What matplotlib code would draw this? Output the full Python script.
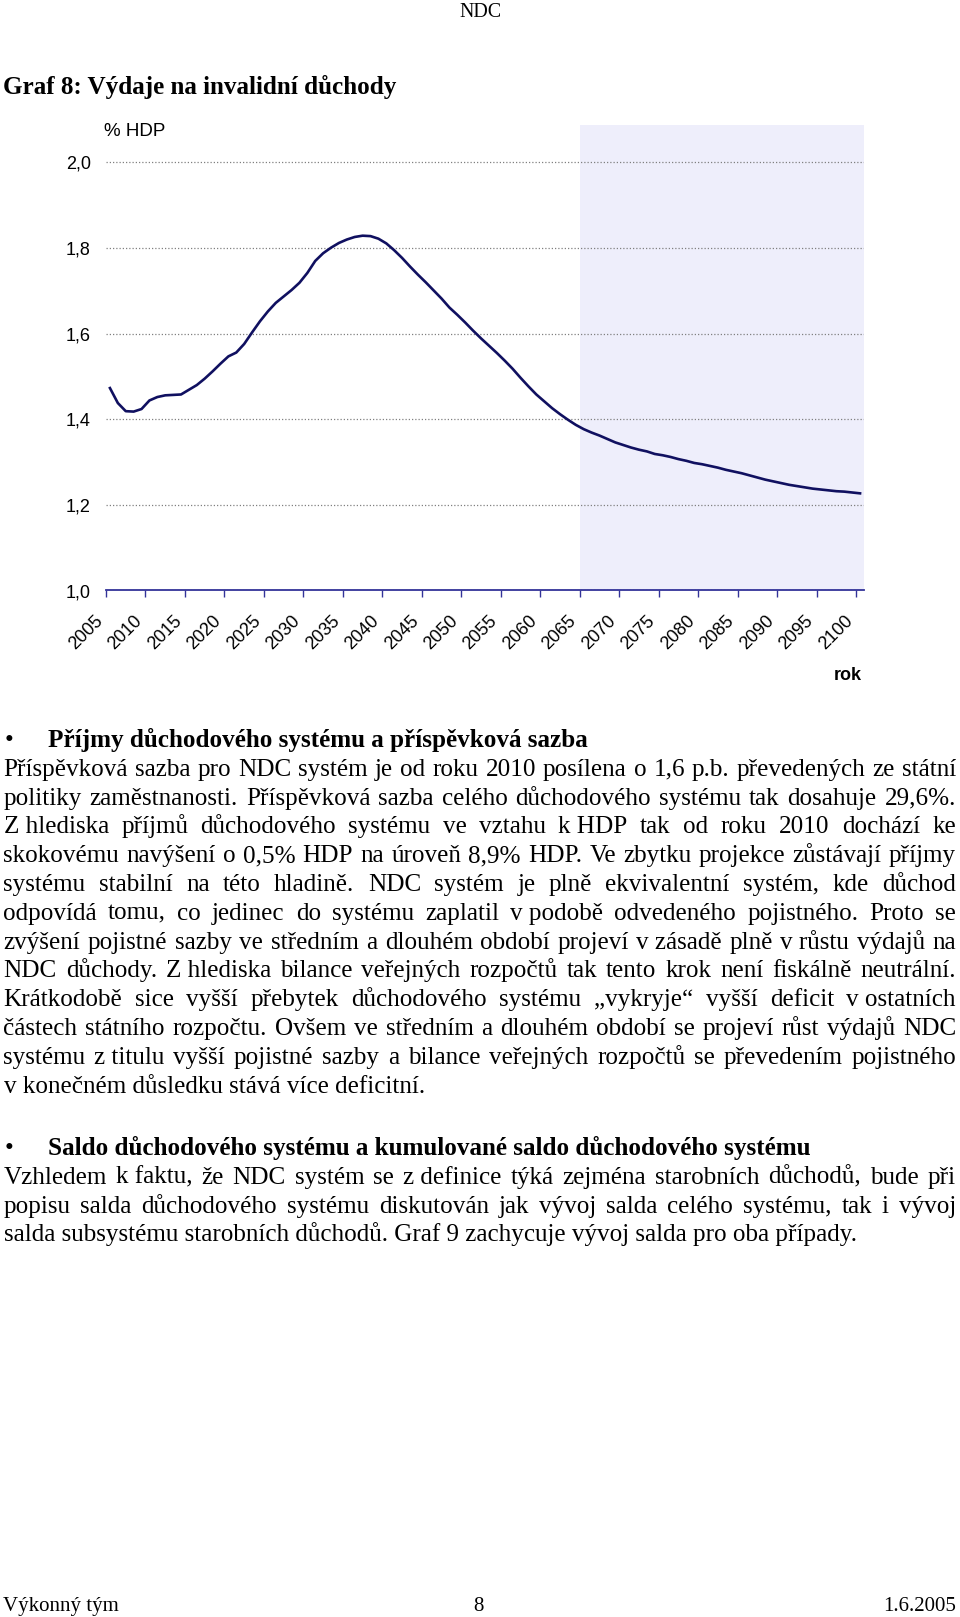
import numpy as np
import matplotlib
matplotlib.use('Agg')
import matplotlib.pyplot as plt
from matplotlib.font_manager import FontProperties

# data (share of GDP, annual 2005-2100)
years = np.arange(2005, 2101)
spending = [
    1.473, 1.438, 1.419, 1.418, 1.424, 1.444, 1.452, 1.456, 1.457, 1.458,
    1.469, 1.480, 1.495, 1.512, 1.530, 1.547, 1.556, 1.576, 1.603, 1.629,
    1.652, 1.672, 1.687, 1.702, 1.719, 1.742, 1.770, 1.788, 1.801, 1.812,
    1.820, 1.826, 1.829, 1.828, 1.822, 1.811, 1.795, 1.777, 1.757, 1.738,
    1.720, 1.701, 1.682, 1.661, 1.644, 1.626, 1.607, 1.589, 1.572, 1.555,
    1.537, 1.518, 1.497, 1.477, 1.458, 1.442, 1.426, 1.412, 1.399, 1.387,
    1.377, 1.369, 1.362, 1.354, 1.346, 1.340, 1.334, 1.329, 1.325, 1.319,
    1.316, 1.312, 1.307, 1.303, 1.298, 1.295, 1.291, 1.287, 1.282, 1.278,
    1.274, 1.269, 1.264, 1.259, 1.255, 1.251, 1.247, 1.244, 1.241, 1.238,
    1.236, 1.234, 1.232, 1.231, 1.229, 1.227,
]
xtick_years = list(range(2005, 2101, 5))
ytick_vals = [1.0, 1.2, 1.4, 1.6, 1.8, 2.0]
ytick_labels = ['1,0', '1,2', '1,4', '1,6', '1,8', '2,0']
projection_start = 2065

# text of the page
title = 'Graf 8: Výdaje na invalidní důchody'
heading1 = 'Příjmy důchodového systému a příspěvková sazba'
para1 = [
    'Příspěvková sazba pro NDC systém je od roku 2010 posílena o 1,6 p.b. převedených ze státní',
    'politiky zaměstnanosti. Příspěvková sazba celého důchodového systému tak dosahuje 29,6%.',
    'Z hlediska příjmů důchodového systému ve vztahu k HDP tak od roku 2010 dochází ke',
    'skokovému navýšení o 0,5% HDP na úroveň 8,9% HDP. Ve zbytku projekce zůstávají příjmy',
    'systému stabilní na této hladině. NDC systém je plně ekvivalentní systém, kde důchod',
    'odpovídá tomu, co jedinec do systému zaplatil v podobě odvedeného pojistného. Proto se',
    'zvýšení pojistné sazby ve středním a dlouhém období projeví v zásadě plně v růstu výdajů na',
    'NDC důchody. Z hlediska bilance veřejných rozpočtů tak tento krok není fiskálně neutrální.',
    'Krátkodobě sice vyšší přebytek důchodového systému „vykryje“ vyšší deficit v ostatních',
    'částech státního rozpočtu. Ovšem ve středním a dlouhém období se projeví růst výdajů NDC',
    'systému z titulu vyšší pojistné sazby a bilance veřejných rozpočtů se převedením pojistného',
    'v konečném důsledku stává více deficitní.',
]
heading2 = 'Saldo důchodového systému a kumulované saldo důchodového systému'
para2 = [
    'Vzhledem k faktu, že NDC systém se z definice týká zejména starobních důchodů, bude při',
    'popisu salda důchodového systému diskutován jak vývoj salda celého systému, tak i vývoj',
    'salda subsystému starobních důchodů. Graf 9 zachycuje vývoj salda pro oba případy.',
]

W, H = 960, 1617
fig = plt.figure(figsize=(W / 100, H / 100), dpi=100)
renderer = fig.canvas.get_renderer()

serif = 'Liberation Serif'
sans = 'Liberation Sans'
body_fs = 18.1
small_fs = 15


def fx(x):
    return x / W


def fy(y):
    return 1 - y / H


# header / footer
fig.text(fx(480), fy(17), 'NDC', family=serif, fontsize=small_fs - 0.6, ha='center', va='baseline')
fig.text(fx(3), fy(1611), 'Výkonný tým', family=serif, fontsize=small_fs, ha='left', va='baseline')
fig.text(fx(478), fy(1611), '8', family=serif, fontsize=small_fs, ha='center', va='baseline')
fig.text(fx(956), fy(1611), '1.6.2005', family=serif, fontsize=small_fs, ha='right', va='baseline')
fig.text(fx(3), fy(94), title, family=serif, fontsize=body_fs, weight='bold', va='baseline')

# chart
ax = fig.add_axes([fx(106), fy(590.5), (864 - 106) / W, (590.5 - 125) / H])
ax.axvspan(projection_start, 2101, color='#eeeefb', lw=0, zorder=0)
ax.plot(years + 0.5, spending, color='#101060', lw=1.9, zorder=3)
ax.set_xlim(2005, 2101)
ax.set_ylim(1.0, 1.0 + 465.5 / 428)
ax.set_yticks(ytick_vals)
ax.set_yticklabels(ytick_labels, family=sans, fontsize=13)
ax.set_xticks(xtick_years)
ax.set_xticklabels([str(y) for y in xtick_years], family=sans, fontsize=13,
                   rotation=45, ha='right')
ax.tick_params(axis='y', length=0, pad=11)
ax.tick_params(axis='x', length=5, width=1, color='#333399', direction='out', pad=11)
ax.yaxis.grid(True, color='#808080', linestyle=(0, (1, 1.6)), lw=0.9)
for s in ['top', 'right', 'left']:
    ax.spines[s].set_visible(False)
ax.spines['bottom'].set_color('#333399')
ax.spines['bottom'].set_linewidth(1.3)
ax.set_facecolor('none')

fig.text(fx(104), fy(136.5), '% HDP', family=sans, fontsize=13.5, va='baseline')
fig.text(fx(862), fy(680), 'rok', family=sans, fontsize=13, weight='bold',
         ha='right', va='baseline')

# justified body text
glue_words = ('v', 'k', 'z', 'Z')
x_left, x_right = 3.5, 956
prop = FontProperties(family=serif, size=body_fs)


def text_width(s):
    w, h, d = renderer.get_text_width_height_descent(s, prop, ismath=False)
    return w


def draw_line(line, y, justify):
    if not justify:
        fig.text(fx(x_left), fy(y), line, fontproperties=prop, va='baseline')
        return
    words = line.split(' ')
    tokens = []
    i = 0
    while i < len(words):
        w = words[i]
        while w.split(' ')[-1] in glue_words and i + 1 < len(words):
            i += 1
            w = w + ' ' + words[i]
        tokens.append(w)
        i += 1
    widths = [text_width(t) for t in tokens]
    gap = (x_right - x_left - sum(widths)) / (len(tokens) - 1)
    x = x_left
    for t, wd in zip(tokens, widths):
        fig.text(fx(x), fy(y), t, fontproperties=prop, va='baseline')
        x += wd + gap


def draw_block(heading, lines, y0, step=28.8):
    fig.text(fx(5), fy(y0), '•', family=serif, fontsize=body_fs, va='baseline')
    fig.text(fx(48.5), fy(y0), heading, family=serif, fontsize=body_fs,
             weight='bold', va='baseline')
    for k, line in enumerate(lines):
        draw_line(line, y0 + step * (k + 1), k < len(lines) - 1)


draw_block(heading1, para1, 747)
draw_block(heading2, para2, 1155)

fig.savefig('out.png', dpi=100)
